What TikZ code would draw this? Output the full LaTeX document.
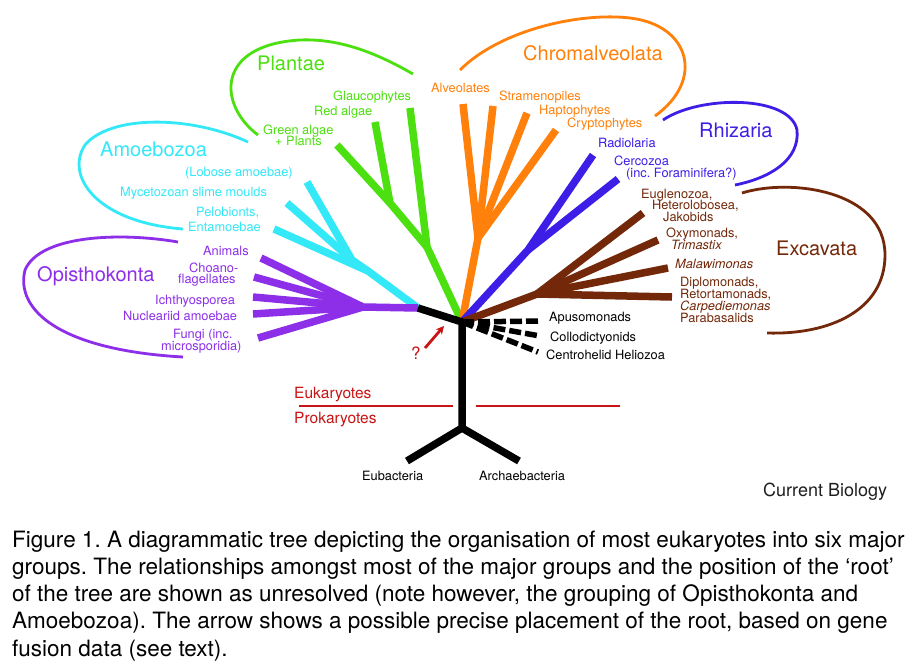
\documentclass[tikz,border=0pt]{standalone}
\usepackage{fontspec}
\setmainfont{TeX Gyre Heros}
\usetikzlibrary{arrows.meta}
\definecolor{grn}{RGB}{76,224,16}
\definecolor{cyn}{RGB}{51,232,247}
\definecolor{prp}{RGB}{141,46,232}
\definecolor{blu}{RGB}{60,30,230}
\definecolor{org}{RGB}{255,128,10}
\definecolor{brn}{RGB}{115,40,10}
\definecolor{rdd}{RGB}{200,20,20}
\definecolor{cbg}{RGB}{30,30,30}
\frenchspacing
\begin{document}
\begin{tikzpicture}[x=1pt,y=-1pt,
  br/.style={line width=7.5pt,line cap=butt,line join=round},
  lasso/.style={line width=2.8pt},
  dsh/.style={line width=5.5pt,dash pattern=on 12pt off 4pt},
  lab/.style={font=\fontsize{12.8}{13}\selectfont,anchor=base west,inner sep=0pt},
  big/.style={font=\fontsize{20}{22}\selectfont,anchor=base west,inner sep=0pt},
  captxt/.style={font=\fontsize{22.5}{27}\selectfont,anchor=base west,inner sep=0pt}]
\useasboundingbox (0,0) rectangle (913,670);
\fill[white] (0,0) rectangle (913,670);
% coordinates
\coordinate (hub) at (462,322);
\coordinate (ao) at (418,308);
\coordinate (tb) at (462,428);
\coordinate (eu) at (407,461);
\coordinate (ar) at (519,461);
% green
\coordinate (gGl) at (410,108);
\coordinate (gRe) at (375,122);
\coordinate (gGr) at (337,145);
\coordinate (gJ1) at (390,203);
\coordinate (gJ2) at (427,247);
% orange
\coordinate (oAl) at (463,104);
\coordinate (oSt) at (493,106);
\coordinate (oHa) at (527,113);
\coordinate (oCr) at (556,130);
\coordinate (oJ) at (478,238);
% blue
\coordinate (bRa) at (593,155);
\coordinate (bCe) at (618,179);
\coordinate (bJ) at (528,250);
% brown
\coordinate (xJ) at (537,294);
\coordinate (xEu) at (643,213);
\coordinate (xOx) at (658,240);
\coordinate (xMa) at (668,268);
\coordinate (xDi) at (672,297);
% cyan
\coordinate (cLo) at (307,182);
\coordinate (cMy) at (287,203);
\coordinate (cPe) at (274,229);
\coordinate (cJ1) at (352,260);
\coordinate (cJ2) at (368,271);
% purple
\coordinate (pAn) at (261,258);
\coordinate (pCh) at (254,277);
\coordinate (pIc) at (253,297);
\coordinate (pNu) at (253,314);
\coordinate (pFu) at (258,338);
\coordinate (pJ) at (363,307);
% dashed ends
\coordinate (d1) at (541,321);
\coordinate (d2) at (540,336);
\coordinate (d3) at (538,352);
% arrow
\coordinate (q1) at (425,348);
\coordinate (q2) at (444,326);
% red lines
\coordinate (r1) at (299,406);
\coordinate (r2) at (453,406);
\coordinate (r3) at (476,406);
\coordinate (r4) at (620,406);

% branches
\draw[br,grn] (gGl) -- (gJ2) -- (hub);
\draw[br,grn] (gRe) -- (gJ1) -- (gJ2);
\draw[br,grn] (gGr) -- (gJ1);
\draw[br,org] (oAl) -- (oJ) -- (hub);
\draw[br,org] (oSt) -- (oJ);
\draw[br,org] (oHa) -- (oJ);
\draw[br,org] (oCr) -- (oJ);
\draw[br,blu] (bRa) -- (bJ) -- (hub);
\draw[br,blu] (bCe) -- (bJ);
\draw[br,brn] (hub) -- (xJ) -- (xDi);
\draw[br,brn] (xJ) -- (xEu);
\draw[br,brn] (xJ) -- (xOx);
\draw[br,brn] (xJ) -- (xMa);
\draw[br,cyn] (cLo) -- (cJ1) -- (cJ2) -- (ao);
\draw[br,cyn] (cMy) -- (cJ1);
\draw[br,cyn] (cPe) -- (cJ2);
\draw[br,prp] (pAn) -- (pJ) -- (ao);
\draw[br,prp] (pCh) -- (pJ);
\draw[br,prp] (pIc) -- (pJ);
\draw[br,prp] (pNu) -- (pJ);
\draw[br,prp] (pFu) -- (pJ);
\draw[br,black] (ao) -- (hub) -- (tb);
\draw[br,black,line join=miter] (eu) -- (tb) -- (ar);
\draw[dsh] (hub) -- (d1);
\draw[dsh] (hub) -- (d2);
\draw[dsh] (hub) -- (d3);
\draw[rdd,line width=2.8pt,-{Stealth[length=8pt,width=8pt]}] (q1) -- (q2);
\draw[rdd,line width=2.5pt] (r1) -- (r2);
\draw[rdd,line width=2.5pt] (r3) -- (r4);

% lassos
\draw[lasso,grn] (258,135) .. controls (218,105) and (215,45) .. (300,40) .. controls (345,38) and (385,58) .. (413,74);
\draw[lasso,cyn] (248,142) .. controls (190,115) and (110,115) .. (85,145) .. controls (65,175) and (95,222) .. (183,229);
\draw[lasso,prp] (178,242) .. controls (120,232) and (40,235) .. (25,270) .. controls (15,310) and (60,350) .. (183,357);
\draw[lasso,org] (460,70) .. controls (500,30) and (580,12) .. (630,18) .. controls (690,25) and (705,80) .. (655,116);
\draw[lasso,blu] (663,120) .. controls (700,95) and (790,95) .. (797,130) .. controls (800,160) and (770,178) .. (735,185);
\draw[lasso,brn] (742,193) .. controls (790,178) and (885,190) .. (885,255) .. controls (885,310) and (830,335) .. (767,333);

% group labels
\node[big,grn] (nPl) at (257,70) {Plantae};
\node[big,org] (nCh) at (523,60) {Chromalveolata};
\node[big,blu] (nRh) at (699,137) {Rhizaria};
\node[big,cyn] (nAm) at (100,156) {Amoebozoa};
\node[big,prp] (nOp) at (37,281) {Opisthokonta};
\node[big,brn] (nEx) at (776,255) {Excavata};

% small labels
\node[lab,grn] (t1) at (333,100) {Glaucophytes};
\node[lab,grn] (t2) at (314,115) {Red algae};
\node[lab,grn] (t3) at (263,134) {Green algae};
\node[lab,grn] (t4) at (275,145) {+ Plants};
\node[lab,org] (t5) at (431,92) {Alveolates};
\node[lab,org] (t6) at (499,100) {Stramenopiles};
\node[lab,org] (t7) at (539,114) {Haptophytes};
\node[lab,org] (t8) at (567,127) {Cryptophytes};
\node[lab,blu] (t9) at (598,147) {Radiolaria};
\node[lab,blu] (t10) at (614,165) {Cercozoa};
\node[lab,blu] (t11) at (626,177) {(inc. Foraminifera?)};
\node[lab,cyn] (t12) at (185,176) {(Lobose amoebae)};
\node[lab,cyn] (t13) at (120,196) {Mycetozoan slime moulds};
\node[lab,cyn] (t14) at (196,216) {Pelobionts,};
\node[lab,cyn] (t15) at (188,231) {Entamoebae};
\node[lab,prp] (t16) at (203,255) {Animals};
\node[lab,prp] (t17) at (189,272) {Choano-};
\node[lab,prp] (t18) at (178,283) {flagellates};
\node[lab,prp] (t19) at (155,304) {Ichthyosporea};
\node[lab,prp] (t20) at (123,320) {Nucleariid amoebae};
\node[lab,prp] (t21) at (173,338) {Fungi (inc.};
\node[lab,prp] (t22) at (161,350) {microsporidia)};
\node[lab,brn] (t23) at (641,198) {Euglenozoa,};
\node[lab,brn] (t24) at (652,209.5) {Heterolobosea,};
\node[lab,brn] (t25) at (663,221) {Jakobids};
\node[lab,brn] (t26) at (666,237) {Oxymonads,};
\node[lab,brn] (t27) at (671,249) {\itshape Trimastix};
\node[lab,brn] (t28) at (675,268) {\itshape Malawimonas};
\node[lab,brn] (t29) at (680,286) {Diplomonads,};
\node[lab,brn] (t30) at (680,298) {Retortamonads,};
\node[lab,brn] (t31) at (680,310) {\itshape Carpediemonas};
\node[lab,brn] (t32) at (680,322) {Parabasalids};
\node[lab] (t33) at (549,321) {Apusomonads};
\node[lab] (t34) at (550,341) {Collodictyonids};
\node[lab] (t35) at (546,359) {Centrohelid Heliozoa};
\node[lab] (t36) at (362,480) {Eubacteria};
\node[lab] (t37) at (479,480) {Archaebacteria};
\node[lab,rdd,font=\fontsize{15.5}{16}\selectfont] (t38) at (294,398) {Eukaryotes};
\node[lab,rdd,font=\fontsize{15.5}{16}\selectfont] (t39) at (294,423) {Prokaryotes};
\node[lab,rdd,font=\fontsize{17}{18}\selectfont] (t40) at (411,359) {?};
\node[lab,cbg,font=\fontsize{18}{19}\selectfont] (t41) at (763,496) {Current Biology};

% caption
\node[captxt] (c1) at (12,547) {Figure 1. A diagrammatic tree depicting the organisation of most eukaryotes into six major};
\node[captxt] (c2) at (12,574) {groups. The relationships amongst most of the major groups and the position of the ‘root’};
\node[captxt] (c3) at (12,601) {of the tree are shown as unresolved (note however, the grouping of Opisthokonta and};
\node[captxt] (c4) at (12,628) {Amoebozoa). The arrow shows a possible precise placement of the root, based on gene};
\node[captxt] (c5) at (12,656) {fusion data (see text).};
\end{tikzpicture}
\end{document}
